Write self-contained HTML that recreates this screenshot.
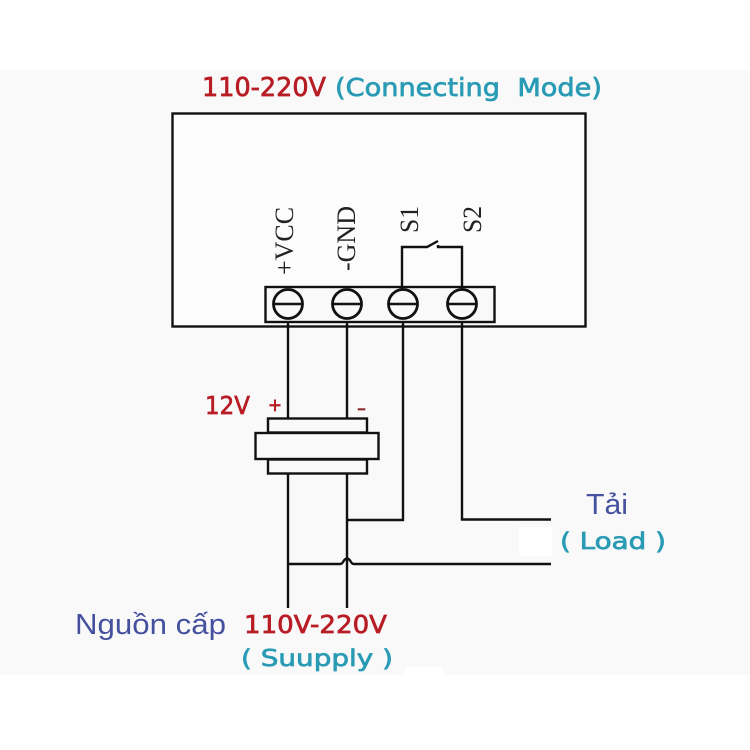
<!DOCTYPE html>
<html><head><meta charset="utf-8"><style>html,body{margin:0;padding:0;background:#fff}svg{display:block}</style></head>
<body>
<svg width="750" height="750" viewBox="0 0 750 750" xmlns="http://www.w3.org/2000/svg">
<rect width="750" height="750" fill="#fff"/>
<rect x="0" y="70" width="750" height="605" fill="#f9f9f9"/>
<rect x="519" y="527" width="33" height="29" fill="#fff"/>
<rect x="405" y="667" width="38" height="8" fill="#fff"/>
<g fill="none" stroke="#111" stroke-width="2.4">
<rect x="172.500" y="113.500" width="413" height="213" fill="#fcfcfc"/>
<rect x="265.500" y="287" width="229" height="35" fill="#f9f9f9"/>
<g stroke-width="2.8">
<circle cx="288" cy="304" r="14.500"/><circle cx="347" cy="304" r="14.500"/><circle cx="403" cy="304" r="14.500"/><circle cx="462" cy="304" r="14.500"/>
</g>
<path d="M273 304H303M332 304H362M388 304H418M447 304H477"/>
<path d="M402 289V247H427L438 241M438 245V247H462V289"/>
<path d="M288 322V418M347 322V418M403 322V520H347M462 322V519.500H551"/>
<rect x="268" y="418.500" width="99" height="14"/>
<rect x="255.500" y="433" width="123" height="26"/>
<rect x="268" y="459.500" width="99" height="14"/>
<path d="M288 474V608M347 474V608"/>
<path d="M288 564H340Q342 564 343 562Q347 555 351 562Q352 564 354 564H551"/>
</g>
<g font-family="'Liberation Serif',serif" font-size="26" fill="#222">
<text transform="translate(293,275) rotate(-90)" textLength="68" lengthAdjust="spacingAndGlyphs">+VCC</text>
<text transform="translate(355,271) rotate(-90)" textLength="65" lengthAdjust="spacingAndGlyphs">-GND</text>
<text transform="translate(418,233) rotate(-90)" textLength="27" lengthAdjust="spacingAndGlyphs">S1</text>
<text transform="translate(481,233) rotate(-90)" textLength="27" lengthAdjust="spacingAndGlyphs">S2</text>
</g>
<g font-family="'DejaVu Sans',sans-serif" stroke-width="0.7">
<g fill="#b81c25" stroke="#b81c25">
<text x="202" y="96" font-size="26" textLength="124" lengthAdjust="spacingAndGlyphs">110-220V</text>
<text x="205" y="414" font-size="25" textLength="45" lengthAdjust="spacingAndGlyphs">12V</text>
<text x="268" y="411" font-size="18" textLength="14" lengthAdjust="spacingAndGlyphs">+</text>
<text x="357" y="414" font-size="18" textLength="9" lengthAdjust="spacingAndGlyphs" fill="#8a2a30" stroke="#8a2a30">-</text>
<text x="244" y="633" font-size="25" textLength="143" lengthAdjust="spacingAndGlyphs">110V-220V</text>
</g>
<g fill="#2a9bb5" stroke="#2a9bb5">
<text x="335" y="96" font-size="25" textLength="267" lengthAdjust="spacingAndGlyphs" xml:space="preserve">(Connecting  Mode)</text>
<text x="560" y="549" font-size="23" textLength="106" lengthAdjust="spacingAndGlyphs" xml:space="preserve">( Load )</text>
<text x="241" y="666" font-size="23" textLength="152" lengthAdjust="spacingAndGlyphs" xml:space="preserve">( Suupply )</text>
</g>
</g>
<g font-family="'Liberation Sans',sans-serif" fill="#45509f">
<text x="75" y="634" font-size="29" textLength="151" lengthAdjust="spacingAndGlyphs">Nguồn cấp</text>
<text x="586" y="514" font-size="29" textLength="42" lengthAdjust="spacingAndGlyphs">Tải</text>
</g>
</svg>
</body></html>
